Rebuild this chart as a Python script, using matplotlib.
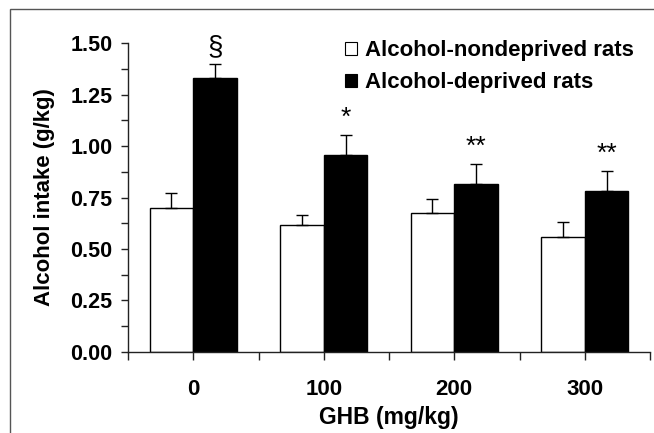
import matplotlib

matplotlib.use("Agg")
import matplotlib.pyplot as plt
from matplotlib.patches import Rectangle, Patch
import numpy as np

plt.rcParams["font.family"] = ["Liberation Sans", "DejaVu Sans"]
plt.rcParams["font.weight"] = "bold"

# data
doses = ["0", "100", "200", "300"]
nondeprived = [0.70, 0.615, 0.675, 0.56]
nondeprived_sem = [0.07, 0.05, 0.07, 0.07]
deprived = [1.33, 0.955, 0.815, 0.78]
deprived_sem = [0.07, 0.10, 0.10, 0.10]
marks = ["§", "*", "**", "**"]

INK = "#000000"
AXIS = "#222222"

fig = plt.figure(figsize=(6.54, 4.33), dpi=100)
fig.patch.set_facecolor("white")

# thin frame around the panel (runs off the right and bottom edges)
fig.patches.append(Rectangle((10 / 654, -0.1), 1.2, 0.1 + (433 - 9.5) / 433,
                             transform=fig.transFigure, fill=False,
                             edgecolor="#555555", linewidth=1.0))

ax = fig.add_axes([128 / 654, (433 - 351.7) / 433, 522 / 654, 308.4 / 433])
x = np.arange(len(doses))
w = 0.334

err_kw = dict(ecolor=INK, elinewidth=1.0, capsize=4, capthick=1.0)
ax.bar(x - w / 2, nondeprived, w, color="white", edgecolor=INK, linewidth=1.0,
       yerr=[np.zeros(len(doses)), nondeprived_sem], error_kw=err_kw,
       label="Alcohol-nondeprived rats")
ax.bar(x + w / 2, deprived, w, color="black", edgecolor=INK, linewidth=1.0,
       yerr=[np.zeros(len(doses)), deprived_sem], error_kw=err_kw,
       label="Alcohol-deprived rats")

for i, m in enumerate(marks):
    top = deprived[i] + deprived_sem[i]
    if m == "§":
        ax.text(x[i] + w / 2, top + 0.02, m, ha="center", va="bottom",
                fontsize=20, fontweight="normal", color=INK)
    else:
        ax.text(x[i] + w / 2, top + 0.025, m, ha="center", va="bottom",
                fontsize=19, fontweight="normal", color=INK)

ax.set_xlim(-0.5, len(doses) - 0.5)
ax.set_ylim(0, 1.5)
ax.set_yticks(np.arange(0, 1.51, 0.25))
ax.set_yticklabels([f"{v:.2f}" for v in np.arange(0, 1.51, 0.25)])
ax.set_yticks(np.arange(0, 1.5, 0.125), minor=True)
ax.set_xticks(x)
ax.set_xticklabels(doses)
ax.set_xticks(np.arange(-0.5, len(doses), 0.5), minor=True)

for side in ("top", "right"):
    ax.spines[side].set_visible(False)
for side in ("left", "bottom"):
    ax.spines[side].set_color(AXIS)
    ax.spines[side].set_linewidth(1.0)

ax.tick_params(axis="y", which="both", direction="out", length=5, width=1,
               color=AXIS, labelsize=15.5, pad=6)
ax.tick_params(axis="x", which="both", direction="out", length=6, width=1,
               color=AXIS, labelsize=16, pad=14)

ax.set_xlabel("GHB (mg/kg)", fontsize=16.5, fontweight="bold", labelpad=4)
ax.set_ylabel("Alcohol intake (g/kg)", fontsize=16, fontweight="bold",
              labelpad=11)

handles = [Patch(facecolor="white", edgecolor=INK, linewidth=0.8),
           Patch(facecolor="black", edgecolor=INK, linewidth=0.8)]
ax.legend(handles, ["Alcohol-nondeprived rats", "Alcohol-deprived rats"],
          loc="upper left", bbox_to_anchor=(0.416, 1.01), frameon=False,
          fontsize=16, handlelength=0.55, handleheight=0.55,
          handletextpad=0.35, labelspacing=0.5, borderaxespad=0,
          borderpad=0)

fig.savefig("out.png", dpi=100, facecolor="white")
